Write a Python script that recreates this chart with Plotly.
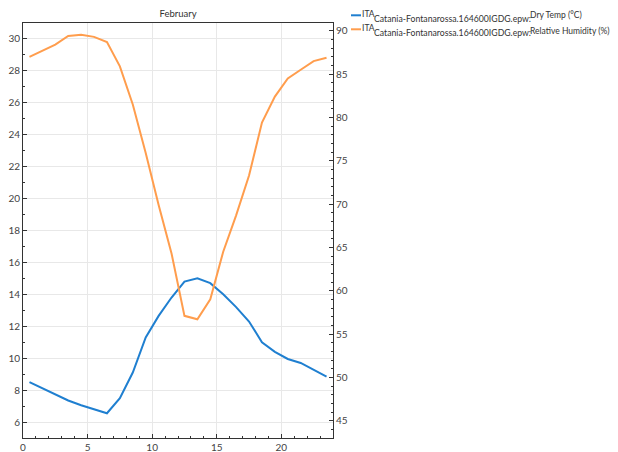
import plotly.graph_objects as go

hours = [0.5, 1.5, 2.5, 3.5, 4.5, 5.5, 6.5, 7.5, 8.5, 9.5, 10.5, 11.5,
         12.5, 13.5, 14.5, 15.5, 16.5, 17.5, 18.5, 19.5, 20.5, 21.5, 22.5, 23.5]
dry_temp = [8.5, 8.1, 7.7, 7.35, 7.05, 6.8, 6.55, 7.5, 9.1, 11.3, 12.65, 13.8,
            14.8, 15.0, 14.7, 14.0, 13.2, 12.3, 11.0, 10.4, 9.95, 9.7, 9.3, 8.85]
rel_hum = [87.0, 87.7, 88.4, 89.4, 89.55, 89.3, 88.7, 85.9, 81.5, 75.9, 69.9, 64.3,
           57.1, 56.7, 59.0, 64.5, 68.7, 73.3, 79.4, 82.4, 84.5, 85.5, 86.5, 86.9]

series_prefix = "ITA"
series_file = "Catania-Fontanarossa.164600IGDG.epw:"
series_vars = ["Dry Temp (°C)", "Relative Humidity (%)"]
colors = ["#1f7fd0", "#ff9d4d"]

font = "Lato"
fc = "#444444"

# page offset of the figure inside the browser (default body margin)
OFF = 8
# plot area in figure pixels
L, R, T, B = 15, 325, 15, 430
W, H = R - L, B - T


def px_x(p):
    return (p - OFF - L) / W


def px_y(q):
    return (B - (q - OFF)) / H


fig = go.Figure()
fig.add_trace(go.Scatter(x=hours, y=dry_temp, mode="lines", name=series_vars[0],
                         line=dict(color=colors[0], width=2), showlegend=False))
fig.add_trace(go.Scatter(x=hours, y=rel_hum, mode="lines", name=series_vars[1], yaxis="y2",
                         line=dict(color=colors[1], width=2), showlegend=False))

axis_common = dict(showline=True, linecolor="#333333", linewidth=1,
                   ticks="inside", ticklen=4, tickcolor="#333333", automargin=False,
                   tickfont=dict(family=font, size=10, color=fc), zeroline=False)
minor = dict(dtick=1, ticks="inside", ticklen=2, tickcolor="#333333", showgrid=False)

fig.update_layout(
    width=618, height=452,
    margin=dict(l=L, r=618 - R, t=T, b=452 - B, autoexpand=False),
    paper_bgcolor="white", plot_bgcolor="white",
    font=dict(family=font, size=10, color=fc),
    title=dict(text="February", x=(L + W / 2) / 618, xanchor="center",
               y=1 - 6 / 452, yanchor="middle",
               font=dict(family=font, size=9.5, color="#333333")),
    xaxis=dict(range=[0, 24], dtick=5, tick0=0, mirror=True,
               showgrid=True, gridcolor="#e8e8e8", minor=minor, **axis_common),
    yaxis=dict(range=[5, 31], dtick=2, tick0=0,
               showgrid=True, gridcolor="#e8e8e8", minor=minor, **axis_common),
    yaxis2=dict(range=[43.0, 90.9], dtick=5, tick0=0, overlaying="y", side="right",
                showgrid=False, minor=minor, **axis_common),
    showlegend=False,
)

# manual legend: short line sample, then "ITA" + subscript file name + superscript variable
rows = [(15.3, 14.2, 18.0, 15.3), (29.3, 28.5, 32.0, 30.8)]
for var, col, (yl, yi, ysub, ysup) in zip(series_vars, colors, rows):
    fig.add_shape(type="line", xref="paper", yref="paper",
                  x0=px_x(351), x1=px_x(361), y0=px_y(yl), y1=px_y(yl),
                  line=dict(color=col, width=2))
    for txt, xs, ys, size in [(series_prefix, 361, yi, 8.5),
                              (series_file, 373, ysub, 8.7),
                              (var, 529, ysup, 8.5)]:
        fig.add_annotation(xref="paper", yref="paper", x=px_x(xs), y=px_y(ys),
                           xanchor="left", yanchor="middle", showarrow=False,
                           text=txt, borderpad=0,
                           font=dict(family=font, size=size, color="#333333"))

fig.write_html("out.html")
